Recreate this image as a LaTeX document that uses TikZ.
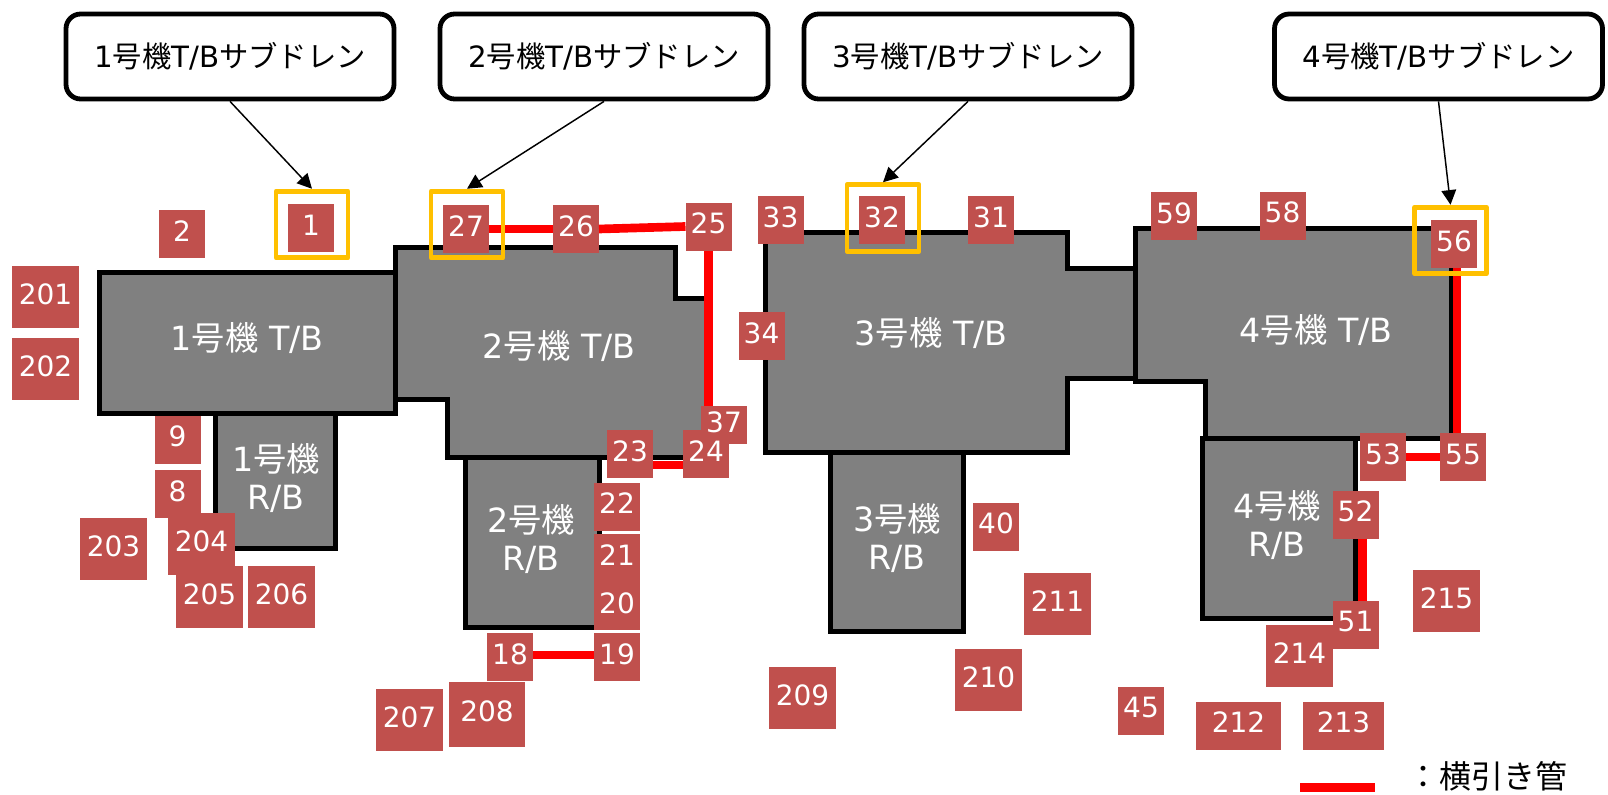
\documentclass[tikz,border=0pt]{standalone}
\usepackage{fontspec}
\usetikzlibrary{arrows.meta}
\setmainfont{DejaVu Sans}
\newfontfamily\cjkfont{Noto Sans CJK JP}
\newcommand{\jp}[1]{{\cjkfont #1}}
\definecolor{drainred}{HTML}{C0504D}
\definecolor{frameyellow}{HTML}{FFC000}
\tikzset{
    drain/.style={fill=drainred, text=white, inner sep=0pt, outer sep=0pt,
        minimum width=34.5pt, minimum height=36pt, text height=15.3pt, text depth=4.5pt,
        font=\fontsize{21}{25}\selectfont},
    drainbig/.style={drain, minimum width=50.25pt, minimum height=46.5pt},
    callout/.style={draw=black, fill=white, line width=3.6pt, rounded corners=11pt, outer sep=1.8pt,
        minimum width=246pt, minimum height=63.75pt, inner sep=0pt,
        font=\fontsize{22}{26}\selectfont},
    hilite/.style={draw=frameyellow, line width=3.6pt, line join=round, minimum width=54pt,
        minimum height=50pt, inner sep=0pt, outer sep=1.8pt},
    bldg/.style={draw=black, fill=gray, line width=3.75pt},
    bldglabel/.style={text=white, align=center, inner sep=0pt,
        font=\fontsize{25}{29}\selectfont},
    pipe/.style={draw=red, line width=6.5pt},
    pointer/.style={-{Stealth[inset=0pt, length=11pt, width=11pt]}, line width=1.1pt}
}
\begin{document}
\begin{tikzpicture}[x={(0.75pt,0pt)}, y={(0pt,-0.75pt)}]

    \useasboundingbox (0,0) rectangle (1608,795);

    \filldraw[bldg] (99,272) -- (395,272) -- (395,413) -- (99,413) -- cycle;
    \filldraw[bldg] (215,413) -- (335,413) -- (335,548) -- (215,548) -- cycle;
    \filldraw[bldg] (395,247) -- (675,247) -- (675,298) -- (708,298) -- (708,457)
        -- (447,457) -- (447,399) -- (395,399) -- cycle;
    \filldraw[bldg] (465,457) -- (599,457) -- (599,627) -- (465,627) -- cycle;
    \filldraw[bldg] (765,232) -- (1067,232) -- (1067,268) -- (1135,268) -- (1135,378)
        -- (1067,378) -- (1067,452) -- (765,452) -- cycle;
    \filldraw[bldg] (830,452) -- (963,452) -- (963,631) -- (830,631) -- cycle;
    \filldraw[bldg] (1135,228) -- (1451,228) -- (1451,438) -- (1205,438) -- (1205,381)
        -- (1135,381) -- cycle;
    \filldraw[bldg] (1202,438) -- (1355,438) -- (1355,618) -- (1202,618) -- cycle;

    \foreach \n/\x/\y in {1/247/338, 2/559/346, 3/931/333, 4/1316/330} {
            \node[bldglabel] (T\n) at (\x,\y) {\n\jp{号機} T/B};
        }
    \foreach \n/\x/\y in {1/276/478, 2/531/539, 3/897/538, 4/1277/525} {
            \node[bldglabel] (R\n) at (\x,\y) {\n\jp{号機}\\R/B};
        }

    \node[drain, minimum height=28.5pt] (D37) at (724,425) {};
    \foreach \n/\x/\y in {
            1/311/228, 2/182/234, 27/466/229, 26/576/229, 25/708.5/226.5, 34/761.5/336,
            9/177.5/439.5, 8/177.5/494, 22/617/506.5, 21/617/558, 20/617/606,
            19/617/657, 18/510/657, 23/630/454, 24/706/454,
            33/780.5/220, 32/882/220, 31/991/220, 59/1174/216, 58/1282.5/215.5,
            56/1454/244, 53/1383/457, 55/1463/457, 52/1355.5/514.5, 51/1355.5/624.5,
            40/996/526.5, 45/1141/710.5} {
            \node[drain] (D\n) at (\x,\y) {\n};
        }
    \node[drain, fill=none, minimum height=28.5pt] (N37) at (D37) {37};
    \foreach \n/\x/\y in {
            201/45.5/297, 202/45.5/369, 203/113.5/549, 204/201.5/544, 205/209.5/597,
            206/281.5/597, 207/409.5/720, 211/1057.5/604, 210/988.5/680, 209/802.5/698,
            214/1299.5/656, 215/1446.5/601} {
            \node[drainbig] (D\n) at (\x,\y) {\n};
        }
    \node[drain, minimum width=57pt, minimum height=48.75pt] (D208) at (487,714.5) {208};
    \node[drain, minimum width=63.75pt] (D212) at (1238.5,725.5) {212};
    \node[drain, minimum width=60.75pt] (D213) at (1343.5,725.5) {213};

    \draw[pipe] (D27.east) -- (D26.west);
    \draw[pipe] (D26.east) -- (D25.west);
    \draw[pipe] (D25.south) -- (D25.south |- D37.north);
    \draw[pipe] ([yshift=-8.25pt]D23.east) -- ([yshift=-8.25pt]D24.west);
    \draw[pipe] ([yshift=1.5pt]D18.east) -- ([yshift=1.5pt]D19.west);
    \draw[pipe] (D53.east) -- (D55.west);
    \draw[pipe] ([xshift=2.25pt]D56.south) -- ([xshift=-4.5pt]D55.north);
    \draw[pipe] ([xshift=5.25pt]D52.south) -- ([xshift=5.25pt]D51.north);

    \foreach \n/\x/\y in {1/312/224.5, 27/467/224.5, 32/883/218, 56/1450.5/240.5} {
            \node[hilite] (F\n) at (\x,\y) {};
        }

    \foreach \n/\x in {1/230, 2/604, 3/968, 4/1438.5} {
            \node[callout] (C\n) at (\x,56.5) {\n\jp{号機}T/B\jp{サブドレン}};
        }

    \draw[pointer] (C1.south) -- (F1.north);
    \draw[pointer] (C2.south) -- (F27.north);
    \draw[pointer] (C3.south) -- (F32.north);
    \draw[pointer] (C4.south) -- (F56.north);

    \coordinate (A) at (1300,787.5);
    \coordinate (B) at (1375,787.5);
    \draw[pipe] (A) -- (B);
    \node[inner sep=0pt, font=\fontsize{24}{30}\selectfont] (L) at (1487,776) {\jp{：横引き管}};

\end{tikzpicture}
\end{document}
